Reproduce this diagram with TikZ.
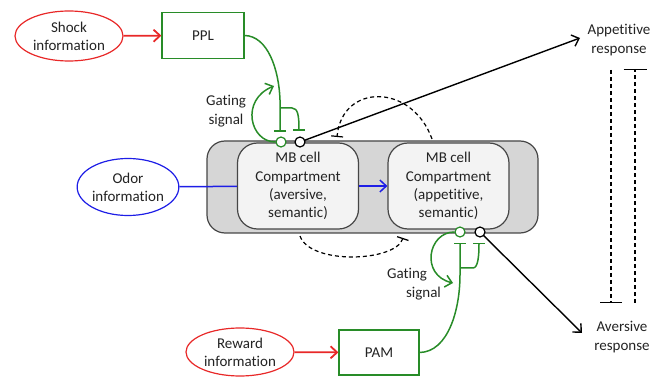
\documentclass[tikz,border=0pt]{standalone}
\usepackage{fontspec}
\setmainfont{Carlito}[Ligatures=NoCommon]
\usetikzlibrary{shapes.geometric,arrows.meta}
\definecolor{myred}{RGB}{232,40,40}
\definecolor{mygreen}{RGB}{40,140,40}
\definecolor{myblue}{RGB}{30,30,230}
\definecolor{outerfill}{RGB}{214,214,214}
\definecolor{innerfill}{RGB}{243,243,243}
\definecolor{edgegray}{RGB}{70,70,70}
\definecolor{txt}{RGB}{35,35,35}
\begin{document}
\begin{tikzpicture}[x=1pt,y=-1pt,
  font=\fontsize{15}{18.3}\selectfont, text=txt,
  info/.style={ellipse, draw, line width=1.2pt, inner sep=0pt, align=center},
  cellbox/.style={draw=mygreen, line width=1.2pt, minimum width=82pt, minimum height=46pt, inner sep=0pt},
  compart/.style={draw=edgegray, line width=1.2pt, fill=innerfill, rounded corners=20pt,
     minimum width=121pt, minimum height=86pt, inner sep=0pt, align=center},
  dot/.style={circle, draw, line width=1.2pt, fill=white, minimum size=10pt, inner sep=0pt},
  tip/.style={-{Straight Barb[length=6.5pt,width=12pt]}},
  tbar/.style={-{Bar[width=12pt]}},
  dashy/.style={dash pattern=on 4pt off 3pt, line width=1.2pt},
  green line/.style={draw=mygreen, line width=1.5pt},
  lbl/.style={align=center, inner sep=0pt}
]
\useasboundingbox (0,0) rectangle (665,377);

% input ellipses and cell boxes
\node[info, draw=myred, minimum width=108pt, minimum height=50pt] (shock) at (69,36) {Shock\\information};
\node[info, draw=myblue, minimum width=93pt, minimum height=57pt] (odor) at (128,187) {Odor\\information};
\node[info, draw=myred, minimum width=108pt, minimum height=48pt] (reward) at (240,352) {Reward\\information};
\node[cellbox] (ppl) at (203,35.5) {PPL};
\node[cellbox, minimum width=80pt, minimum height=45pt] (pam) at (379,352.5) {PAM};

% mushroom body
\node[draw=edgegray, line width=1.2pt, fill=outerfill, rounded corners=18pt,
      minimum width=331pt, minimum height=92pt, inner sep=0pt] (outer) at (372.5,187) {};
\node[compart] (left) at (298,186) {MB cell\\Compartment\\(aversive,\\semantic)};
\node[compart] (right) at (448.5,186) {MB cell\\Compartment\\(appetitive,\\semantic)};

% input arrows
\draw[myred, line width=1.8pt, tip] (shock) -- (ppl);
\draw[myred, line width=1.8pt, tip] (reward) -- (pam);
\draw[myblue, line width=1.5pt] (odor) -- (left);
\draw[myblue, line width=1.5pt, tip] (left) -- (right);

% output coordinates and labels
\coordinate (apptip) at (580,38);
\coordinate (avtip) at (582,333);
\node[lbl] (applbl) at (619,40) {Appetitive\\response};
\node[lbl] (avlbl) at (622,337) {Aversive\\response};

% black output arrows (drawn before dots)
\coordinate (wtop) at (300,142);
\coordinate (wbot) at (480,232);
\draw[black, line width=1.4pt, tip] (wtop) -- (apptip);
\draw[black, line width=1.4pt, tip] (wbot) -- (avtip);

% PPL modulation
\coordinate (pplbar1) at (280,132);
\coordinate (pplbar2) at (299,131);
\coordinate (pplbranch) at (280,108);
\draw[green line, tbar] (ppl.east) .. controls (268,36) and (279,70) .. (280,100) -- (pplbar1);
\draw[green line, tbar] (pplbranch) -- (292,108) .. controls (298,108) and (299,116) .. (pplbar2);

% PAM modulation
\coordinate (pambar1) at (460,243);
\coordinate (pambar2) at (479,243);
\coordinate (pambranch) at (460,268);
\draw[green line, tbar] (pam.east) .. controls (448,352) and (460,310) .. (460,275) -- (pambar1);
\draw[green line, tbar] (pambranch) -- (473,268) .. controls (478,268) and (479,256) .. (pambar2);

% dots
\node[dot, draw=mygreen] (gtop) at (281,142) {};
\node[dot, draw=black] (btop) at (wtop) {};
\node[dot, draw=mygreen] (gbot) at (460,232) {};
\node[dot, draw=black] (bbot) at (wbot) {};

% gating signals
\coordinate (gatetop) at (274,86);
\coordinate (gatebot) at (453,283);
\draw[green line, tip] (gtop.west) .. controls (250,142) and (240,100) .. (gatetop);
\draw[green line, tip] (gbot.west) .. controls (428,232) and (420,275) .. (gatebot);
\node[lbl] (gtext1) at (226,111) {Gating\\signal};
\node[lbl, align=left] (gtext2) at (414,284) {Gating\\\hspace*{19pt}signal};

% dashed inhibitory loops
\coordinate (dtopstart) at (432,139);
\coordinate (dtopend) at (337,137);
\draw[dashy, tbar] (dtopstart) .. controls (412,83) and (342,83) .. (dtopend);
\coordinate (dbotstart) at (300,236);
\coordinate (dbotend) at (403,238);
\draw[dashy, tbar] (dbotstart) .. controls (310,265) and (395,262) .. (dbotend);

% vertical dashed cross-inhibition
\coordinate (v1a) at (611,70);
\coordinate (v1b) at (611,303);
\coordinate (v2a) at (635,303);
\coordinate (v2b) at (635,69);
\draw[dashy, -{Bar[width=22pt]}] (v1a) -- (v1b);
\draw[dashy, -{Bar[width=23pt]}] (v2a) -- (v2b);
\end{tikzpicture}
\end{document}
